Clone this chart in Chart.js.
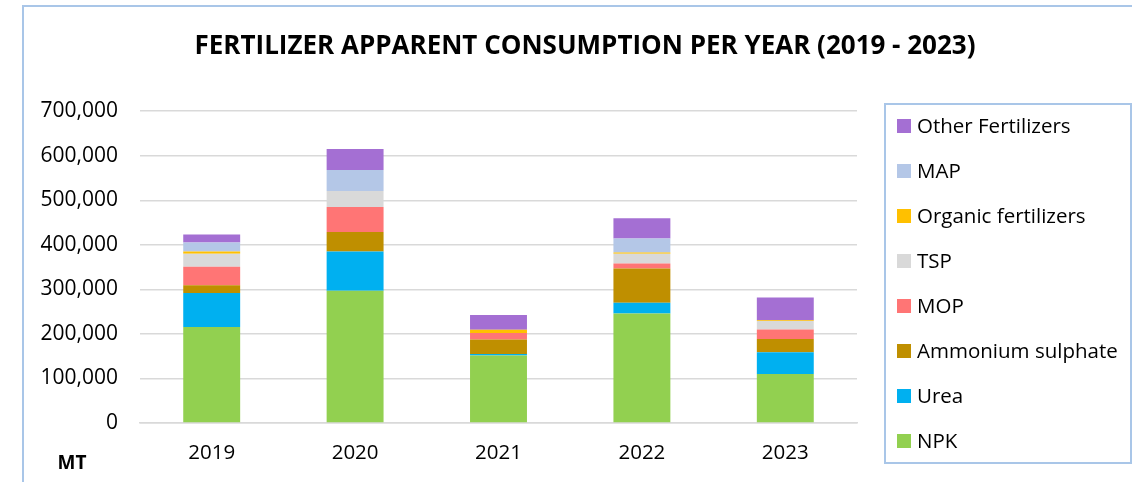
<!DOCTYPE html>
<html>
<head>
  <title>Fertilizer Apparent Consumption</title>
  <meta charset="utf-8" />
  <script src="https://cdn.jsdelivr.net/npm/chart.js"></script>
  <style>
    html, body { margin: 0; padding: 0; background: #fff; overflow: hidden; }
    #frame { position: absolute; left: 22px; top: 5px; width: 1300px; height: 700px;
             border: 2px solid #a9c6e8; box-sizing: border-box; }
    #wrap { position: absolute; left: 0; top: 0; width: 1132px; height: 482px; }
  </style>
</head>
<body>
  <div id="frame"></div>
  <div id="wrap"><canvas id="chart"></canvas></div>

  <script>
    // Values (metric tonnes)
    const years = ['2019', '2020', '2021', '2022', '2023'];
    const npk = [215500, 297000, 151500, 246000, 110000];
    const urea = [76500, 88000, 3500, 24000, 49000];
    const ammoniumSulphate = [17000, 44000, 32500, 77000, 29500];
    const mop = [42000, 56000, 14500, 11000, 21500];
    const tsp = [29000, 36000, 0, 22000, 19000];
    const organic = [5000, 0, 7500, 3000, 1500];
    const mapFert = [20000, 47000, 0, 31000, 0];
    const other = [18000, 47000, 33000, 45500, 51500];
    const yTicks = [0, 100000, 200000, 300000, 400000, 500000, 600000, 700000];

    const FONT = '"Open Sans", "Noto Sans", sans-serif';

    // legend drawn inside a framed box on the right, top item = last dataset
    const boxLegend = {
      id: 'boxLegend',
      afterDraw(chart) {
        const ctx = chart.ctx;
        ctx.save();
        ctx.strokeStyle = '#a9c6e8';
        ctx.lineWidth = 2;
        ctx.strokeRect(885, 104, 246, 359);
        ctx.font = '20.5px ' + FONT;
        ctx.textBaseline = 'middle';
        ctx.fillStyle = '#000';
        const sets = chart.data.datasets.slice().reverse();
        sets.forEach((ds, i) => {
          const y = 126 + i * 45;
          ctx.fillStyle = ds.backgroundColor;
          ctx.fillRect(897, y - 7, 14, 14);
          ctx.fillStyle = '#000';
          ctx.fillText(ds.label, 917, y + 1);
        });
        // unit label under the axis
        ctx.font = 'bold 19px ' + FONT;
        ctx.textAlign = 'center';
        ctx.fillText('MT', 72, 464);
        ctx.restore();
      }
    };

    new Chart(document.getElementById('chart'), {
      type: 'bar',
      data: {
        labels: years,
        datasets: [
          { label: 'NPK', data: npk, backgroundColor: '#92d050' },
          { label: 'Urea', data: urea, backgroundColor: '#00b0f0' },
          { label: 'Ammonium sulphate', data: ammoniumSulphate, backgroundColor: '#bf8f00' },
          { label: 'MOP', data: mop, backgroundColor: '#ff7575' },
          { label: 'TSP', data: tsp, backgroundColor: '#d9d9d9' },
          { label: 'Organic fertilizers', data: organic, backgroundColor: '#ffc000' },
          { label: 'MAP', data: mapFert, backgroundColor: '#b4c7e7' },
          { label: 'Other Fertilizers', data: other, backgroundColor: '#a46fd3' }
        ]
      },
      options: {
        responsive: true,
        maintainAspectRatio: false,
        animation: false,
        layout: { padding: { left: 38, right: 0, top: 0, bottom: 0 } },
        datasets: { bar: { categoryPercentage: 1, barPercentage: 0.397 } },
        plugins: {
          legend: { display: false },
          tooltip: { enabled: false },
          title: {
            display: true,
            text: 'FERTILIZER APPARENT CONSUMPTION PER YEAR (2019 - 2023)',
            color: '#000',
            font: { family: FONT, size: 26, weight: 'bold', lineHeight: 1.2 },
            padding: { top: 31, bottom: 49 }
          }
        },
        scales: {
          x: {
            stacked: true,
            grid: { display: false, drawTicks: false },
            border: { color: '#d9d9d9', width: 1.5 },
            ticks: { color: '#000', padding: 18, font: { family: FONT, size: 20.5 } },
            afterFit: s => { s.height = 59; }
          },
          y: {
            stacked: true,
            min: 0,
            max: 700000,
            afterBuildTicks: s => { s.ticks = yTicks.map(v => ({ value: v })); },
            grid: { color: '#d9d9d9', lineWidth: 1.5, drawTicks: false },
            border: { display: false },
            ticks: {
              color: '#000',
              padding: 22,
              font: { family: FONT, size: 21 },
              callback: v => v.toLocaleString('en-US')
            },
            afterFit: s => { s.width = 102; }
          },
          pad: {
            position: 'right',
            grid: { display: false, drawTicks: false },
            border: { display: false },
            ticks: { display: false },
            afterFit: s => { s.width = 275; }
          }
        }
      },
      plugins: [boxLegend]
    });
  </script>
</body>
</html>
